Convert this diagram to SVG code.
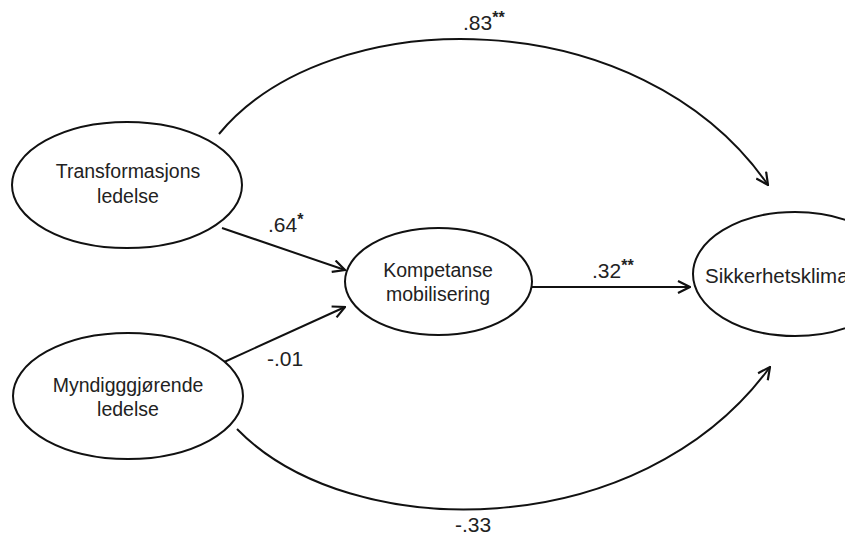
<svg xmlns="http://www.w3.org/2000/svg" width="845" height="537" viewBox="0 0 845 537">
<defs>
<style>
.node ellipse{fill:#fff;stroke:#111;stroke-width:2}
.node text{font-family:"Liberation Sans",Arial,sans-serif;font-size:19.5px;fill:#222;text-anchor:middle}
.conn path{fill:none;stroke:#111;stroke-width:2}
.lbl{font-family:"Liberation Sans",Arial,sans-serif;font-size:21px;fill:#222}
.sup{font-size:16px;font-weight:bold}
</style>
<marker id="arr" viewBox="0 0 14 14" refX="13" refY="7" markerWidth="14" markerHeight="14" markerUnits="userSpaceOnUse" orient="auto">
<path d="M1,1 L13,7 L1,13" fill="none" stroke="#111" stroke-width="2.2"/>
</marker>
</defs>
<rect width="845" height="537" fill="#fff"/>
<g id="connectors" class="conn">
<path d="M219,134 C330,0 640,0 768,185" marker-end="url(#arr)"/>
<path d="M237,429 C350,545 640,545 770,367" marker-end="url(#arr)"/>
<path d="M222,228 L345,270" marker-end="url(#arr)"/>
<path d="M222,363 L345,307" marker-end="url(#arr)"/>
<path d="M532,287 L690,287" marker-end="url(#arr)"/>
</g>
<g id="n-transformasjons" class="node">
<ellipse cx="127" cy="185" rx="115" ry="63"/>
<text x="128" y="178">Transformasjons</text>
<text x="128" y="203">ledelse</text>
</g>
<g id="n-myndiggjorende" class="node">
<ellipse cx="128" cy="396" rx="115" ry="63"/>
<text x="128" y="392">Myndigggjørende</text>
<text x="128" y="416">ledelse</text>
</g>
<g id="n-kompetanse" class="node">
<ellipse cx="438.5" cy="281.5" rx="93.5" ry="53.5"/>
<text x="438" y="277">Kompetanse</text>
<text x="438" y="301">mobilisering</text>
</g>
<g id="n-sikkerhetsklima" class="node">
<ellipse cx="795" cy="274" rx="102" ry="62"/>
<text x="705" y="283" style="text-anchor:start;font-size:20.5px">Sikkerhetsklima</text>
</g>
<g id="labels">
<text class="lbl" x="463" y="30">.83<tspan class="sup" dy="-7">**</tspan></text>
<text class="lbl" x="268" y="232">.64<tspan class="sup" dy="-7">*</tspan></text>
<text class="lbl" x="592" y="278">.32<tspan class="sup" dy="-7">**</tspan></text>
<text class="lbl" x="267" y="366">-.01</text>
<text class="lbl" x="455" y="532">-.33</text>
</g>
</svg>
